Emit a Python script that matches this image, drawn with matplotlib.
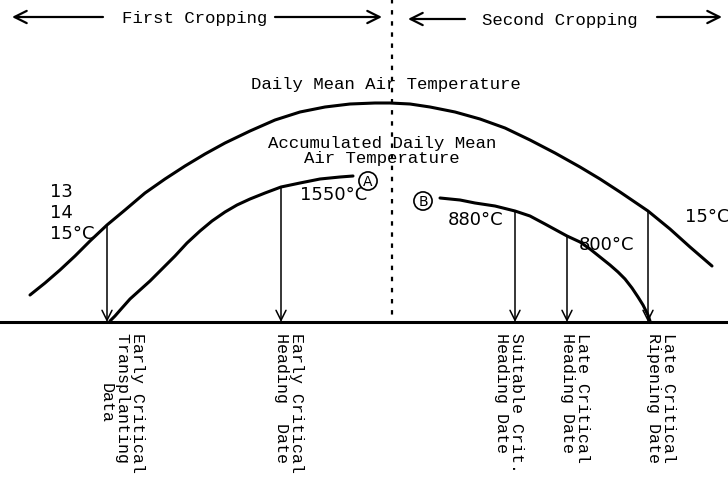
import numpy as np
import matplotlib.pyplot as plt

# curves (pixel coords, y down)
mean_x = [30, 45, 60, 75, 90, 107, 125, 145, 165, 185, 205, 225, 250, 275, 300, 325,
          350, 375, 390, 410, 430, 455, 480, 505, 530, 555, 580, 600, 620, 648, 670, 690, 712]
mean_y = [296, 284, 271, 257, 242, 226, 211, 194, 180, 167, 155, 144, 132, 121, 113, 108,
          105, 104, 104, 105, 108, 113, 120, 129, 141, 154, 168, 180, 193, 212, 230, 248, 267]

accA_x = [110, 115, 122, 130, 140, 150, 162, 175, 187, 200, 212, 225, 237, 250, 265, 281, 300, 320, 340, 353]
accA_y = [322, 317, 309, 300, 291, 282, 270, 257, 244, 232, 222, 213, 206, 200, 194, 188, 184, 180, 178, 177]

accB_x = [440, 460, 475, 495, 515, 530, 545, 556, 567, 580, 590, 600, 610, 618, 625, 632, 638, 643, 648, 650]
accB_y = [199, 201, 204, 207, 212, 217, 225, 231, 237, 243, 250, 258, 266, 273, 280, 289, 298, 306, 316, 322]

# critical dates: x position, top of arrow
date_x = [107, 281, 515, 567, 648]
date_top = [226, 188, 212, 238, 212]
date_labels = ["Early Critical\nTransplanting \nData",
               "Early Critical\nHeading  Date",
               "Suitable Crit.\nHeading Date",
               "Late Critical\nHeading Date",
               "Late Critical\nRipening Date"]
label_x = [122, 289, 509, 575, 661]
label_align = ['center', 'left', 'left', 'left', 'left']

base_y = 323
split_x = 392

mono = 'Liberation Mono'
sans = 'DejaVu Sans'

fig = plt.figure(figsize=(7.28, 4.85), dpi=100)
ax = fig.add_axes([0, 0, 1, 1])
ax.set_xlim(0, 728)
ax.set_ylim(485, 0)
ax.axis('off')

# curves
for cx, cy in [(mean_x, mean_y), (accA_x, accA_y), (accB_x, accB_y)]:
    ax.plot(cx, cy, color='black', lw=2.2, solid_capstyle='round', solid_joinstyle='round')

# baseline and split line
ax.plot([0, 728], [base_y, base_y], color='black', lw=2.2)
ax.plot([split_x, split_x], [0, base_y], color='black', lw=1.6, linestyle=(0, (2, 3)))

# arrows down to the baseline
for x, top in zip(date_x, date_top):
    ax.annotate('', xy=(x, base_y), xytext=(x, top),
                arrowprops=dict(arrowstyle='->', color='black', lw=1.1,
                                shrinkA=0, shrinkB=0, mutation_scale=18))

for lab, x, al in zip(date_labels, label_x, label_align):
    ax.text(x, 333, lab, rotation=-90, ha='center', va='top',
            multialignment=al, fontsize=12, family=mono, linespacing=1.05)

# cropping headers
arrow_kw = dict(color='black', lw=1.6, shrinkA=0, shrinkB=0, mutation_scale=22)
ax.annotate('', xy=(12, 18), xytext=(103, 18), arrowprops=dict(arrowstyle='->', **arrow_kw))
ax.annotate('', xy=(382, 18), xytext=(275, 18), arrowprops=dict(arrowstyle='->', **arrow_kw))
ax.annotate('', xy=(408, 20), xytext=(465, 20), arrowprops=dict(arrowstyle='->', **arrow_kw))
ax.annotate('', xy=(722, 18), xytext=(657, 18), arrowprops=dict(arrowstyle='->', **arrow_kw))
ax.text(195, 18, "First Cropping", ha='center', va='center', fontsize=12.5, family=mono)
ax.text(560, 20, "Second Cropping", ha='center', va='center', fontsize=12.5, family=mono)

# curve titles
ax.text(386, 85, "Daily Mean Air Temperature", ha='center', va='center', fontsize=12.5, family=mono)
ax.text(382, 151, "Accumulated Daily Mean\nAir Temperature", ha='center', va='center',
        fontsize=12.5, family=mono, linespacing=1.0)

# temperature marks
ax.text(50, 192, "13", ha='left', va='center', fontsize=13, family=sans)
ax.text(50, 213, "14", ha='left', va='center', fontsize=13, family=sans)
ax.text(50, 234, "15°C", ha='left', va='center', fontsize=13, family=sans)
ax.text(300, 195, "1550°C", ha='left', va='center', fontsize=13, family=sans)
ax.text(476, 220, "880°C", ha='center', va='center', fontsize=13, family=sans)
ax.text(606, 245, "800°C", ha='center', va='center', fontsize=13, family=sans)
ax.text(707, 217, "15°C", ha='center', va='center', fontsize=13, family=sans)

circ = dict(boxstyle='circle,pad=0.15', fc='white', ec='black', lw=1.2)
ax.text(368, 182, "A", ha='center', va='center', fontsize=10, family=sans, bbox=circ)
ax.text(423, 202, "B", ha='center', va='center', fontsize=10, family=sans, bbox=circ)

fig.savefig('out.png', dpi=100, facecolor='white')
